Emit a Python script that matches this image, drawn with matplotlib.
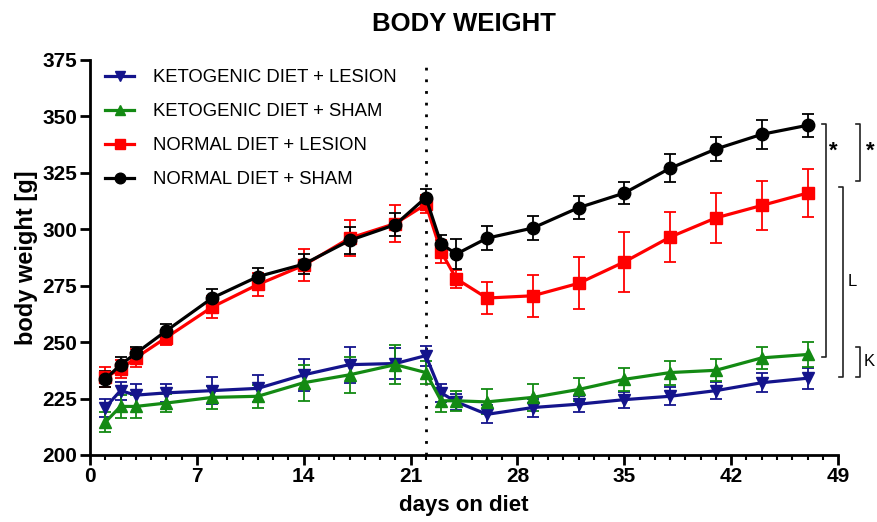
import matplotlib
matplotlib.use("Agg")
import matplotlib.pyplot as plt
from matplotlib.ticker import MultipleLocator

plt.rcParams["font.family"] = ["Liberation Sans", "DejaVu Sans"]

# days on diet
days = [1, 2, 3, 5, 8, 11, 14, 17, 20, 22, 23, 24, 26, 29, 32, 35, 38, 41, 44, 47]

# mean body weight [g] and error bars
keto_lesion = [221, 228.5, 226.5, 227.5, 228.5, 229.5, 235.5, 240, 240.5, 244,
               227.5, 223.5, 218, 221, 222.5, 224.5, 226, 228.5, 232, 234]
keto_lesion_err = [4, 4, 5, 4, 6, 6, 7, 8, 7, 4.4, 4, 3.7, 4, 4, 3.5, 3.5, 4, 3.8, 4.2, 4.6]

keto_sham = [214.5, 221.5, 221.5, 223, 225.5, 226, 232, 235.5, 240, 236.5,
             224, 224, 223.5, 225.5, 229, 233.5, 236.5, 237.5, 243, 244.5]
keto_sham_err = [4.5, 5, 5, 4, 5, 5, 8, 8, 8.5, 5, 5, 4.5, 5.5, 6, 5, 5, 5.3, 4.8, 5, 5.5]

normal_lesion = [234.5, 238, 243, 252, 265.5, 275.5, 284, 296, 302.5, 311,
                 290, 278, 269.5, 270.5, 276, 285.5, 296.5, 305, 310.5, 316]
normal_lesion_err = [4.5, 4, 4, 3.5, 5, 5, 7, 8, 8, 4, 5, 4, 7, 9.4, 11.5, 13.4, 11, 11.2, 10.8, 10.5]

normal_sham = [233.5, 240, 245, 255, 269.5, 279, 284.5, 295, 302, 314,
               293.5, 289, 296, 300.5, 309.5, 316, 327, 335.5, 342, 346]
normal_sham_err = [3.5, 3.5, 3, 3, 4, 4, 4.5, 6, 5, 4, 4, 6.5, 5.3, 5.3, 5, 5, 6.2, 5.4, 6.4, 5.2]

labels = ["KETOGENIC DIET + LESION", "KETOGENIC DIET + SHAM",
          "NORMAL DIET + LESION", "NORMAL DIET + SHAM"]
surgery_day = 22

fig = plt.figure(figsize=(8.77, 5.22), dpi=100)
ax = fig.add_axes([0.1026, 0.1284, 0.853, 0.757])

series = [
    (keto_lesion, keto_lesion_err, "#14148c", "v"),
    (keto_sham, keto_sham_err, "#138a13", "^"),
    (normal_lesion, normal_lesion_err, "#ff0000", "s"),
    (normal_sham, normal_sham_err, "#000000", "o"),
]
for (vals, err, col, mk), lab in zip(series, labels):
    ax.errorbar(days, vals, yerr=err, fmt="none", ecolor=col, elinewidth=1.3,
                capsize=4, capthick=1.3, zorder=2)
    ax.plot(days, vals, color=col, lw=2.3, marker=mk, ms=9, label=lab, zorder=3)

# surgery line
ax.axvline(surgery_day, color="black", ls=(0, (1, 3.2)), lw=2, zorder=1)

ax.set_xlim(0, 49)
ax.set_ylim(200, 375)
ax.xaxis.set_major_locator(MultipleLocator(7))
ax.xaxis.set_minor_locator(MultipleLocator(1))
ax.yaxis.set_major_locator(MultipleLocator(25))

for s in ["top", "right"]:
    ax.spines[s].set_visible(False)
for s in ["left", "bottom"]:
    ax.spines[s].set_linewidth(2)
ax.tick_params(which="major", length=7, width=2, labelsize=15, pad=2)
ax.tick_params(which="minor", length=3.5, width=1.5)
for t in ax.get_xticklabels() + ax.get_yticklabels():
    t.set_fontweight("bold")

ax.set_xlabel("days on diet", fontsize=16, fontweight="bold", labelpad=6)
ax.set_ylabel("body weight [g]", fontsize=17, fontweight="bold", labelpad=3)
ax.set_title("BODY WEIGHT", fontsize=18.5, fontweight="bold", pad=21)

ax.legend(loc="upper left", bbox_to_anchor=(-0.004, 1.023), frameon=False,
          fontsize=13.3, handlelength=1.55, handletextpad=1.05, labelspacing=0.92,
          borderaxespad=0.6, markerscale=0.85)

# significance brackets
def bracket(x, y0, y1, tick=0.25):
    ax.plot([x - tick, x, x, x - tick], [y0, y0, y1, y1], color="#222222",
            lw=1.2, clip_on=False)

bracket(48.2, 346.5, 243.6)
ax.text(48.7, 334.4, "*", fontsize=16, fontweight="bold", ha="center", va="center")
bracket(50.44, 346.5, 321.4)
ax.text(51.1, 334.4, "*", fontsize=16, fontweight="bold", ha="center", va="center")
bracket(49.31, 318.6, 234.7)
ax.text(49.96, 276.8, "L", fontsize=12, ha="center", va="center")
bracket(50.44, 248.0, 234.7)
ax.text(51.03, 241.3, "K", fontsize=12, ha="center", va="center")

fig.savefig("out.png", dpi=100)
